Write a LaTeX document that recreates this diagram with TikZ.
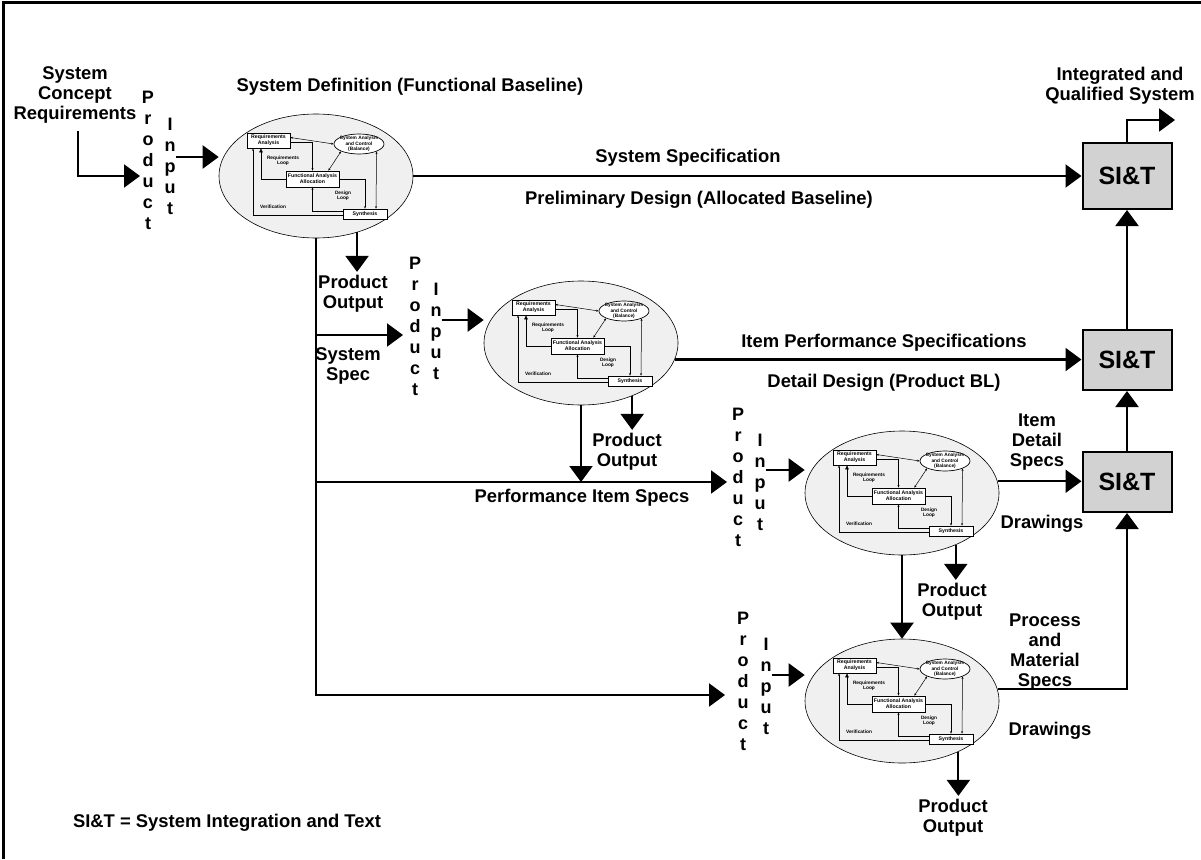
\documentclass[tikz,border=0pt]{standalone}
\usepackage{fontspec}
\setmainfont{Liberation Sans}
\usepackage{tikz}
\usetikzlibrary{arrows.meta, positioning, calc, shapes.geometric}

% one systems engineering loop inside its ellipse
\tikzset{
	seloop/.pic={
		\node[engine] (-body) at (0,0) {};
		\node[blk, minimum width=43pt, minimum height=15pt] (-req) at (-47.5,-35.5) {Requirements\\Analysis};
		\node[bal] (-sac) at (43,-32) {};
		\node[looptext] (-sactxt) at (-sac) {System Analysis\\and Control\\(Balance)};
		\node[blk, minimum width=53pt, minimum height=16pt] (-fa) at (-3.5,3) {Functional Analysis\\Allocation};
		\node[blk, minimum width=44pt, minimum height=10pt] (-syn) at (49,38) {Synthesis};
		\node[looptext] (-rl) at (-33,-15) {Requirements\\Loop};
		\node[looptext] (-dl) at (27,20) {Design\\Loop};
		\node[looptext] (-vf) at (-43,31) {Verification};
		\draw[fine, <->] ([yshift=3pt]-req.east) -- (-sac.west);
		\draw[fine, ->] ([yshift=-2pt]-req.east) -| (-fa.north);
		\draw[fine, <->] (-sac.south west) -- ([xshift=-11pt]-fa.north east);
		\draw[fine, <->] (-sac.-23) -- ([xshift=11pt]-syn.north);
		\draw[fine, ->] (-fa.east) -| (-syn.north);
		\draw[fine, -{Triangle[length=4pt,width=3.5pt]}] (-fa.west) -| ([xshift=-7.5pt]-req.south);
		\draw[fine, ->] ([yshift=3pt]-syn.west) -| (-fa.south);
		\draw[fine, ->] ([yshift=-1.5pt]-syn.west) -| ([xshift=-15.5pt]-req.south);
	}
}

\begin{document}
\begin{tikzpicture}[x=1pt, y=-1pt, >={Triangle[length=16pt,width=23pt]}]
	
	% Define styles
	\tikzstyle{engine} = [ellipse, draw, line width=0.6pt, fill=gray!12, minimum width=194pt, minimum height=124pt]
	\tikzstyle{blk} = [rectangle, draw, line width=0.7pt, fill=white, align=center, inner sep=0.5pt, font=\fontsize{5.2}{5.8}\selectfont\bfseries]
	\tikzstyle{bal} = [ellipse, draw, line width=0.7pt, fill=white, inner sep=0pt, minimum width=50pt, minimum height=20pt]
	\tikzstyle{looptext} = [align=center, inner sep=0pt, font=\fontsize{4.8}{5.3}\selectfont\bfseries]
	\tikzstyle{fine} = [line width=0.5pt, >={Stealth[length=2.5pt,width=2pt]}]
	\tikzstyle{sit} = [rectangle, draw, line width=2pt, fill=gray!35, minimum width=89pt, minimum height=60pt, font=\fontsize{25}{30}\selectfont\bfseries]
	\tikzstyle{stack} = [align=center, inner sep=0pt, font=\fontsize{18}{21}\selectfont\bfseries]
	\tikzstyle{txt} = [align=center, font=\fontsize{18.4}{20}\selectfont\bfseries]
	\tikzstyle{flow} = [line width=2.2pt, ->]
	
	\useasboundingbox (0,0) rectangle (1201,859);
	\draw[line width=3pt] (3,859) -- (3,3) -- (1201,3);
	
	% Engineering loops
	\pic (e1) at (316,176) {seloop};
	\pic (e2) at (581,343) {seloop};
	\pic (e3) at (902,493) {seloop};
	\pic (e4) at (902,701) {seloop};
	
	% SI&T boxes
	\node[sit, minimum height=66pt] (sit1) at (1127,176) {SI\&T};
	\node[sit] (sit2) at (1127,360) {SI\&T};
	\node[sit] (sit3) at (1127,482) {SI\&T};
	
	% Product / Input columns
	\node[stack] (prod1) at (148,160) {P\\r\\o\\d\\u\\c\\t};
	\node[stack] (inp1) at (170,166) {I\\n\\p\\u\\t};
	\node[stack] (prod2) at (415,326) {P\\r\\o\\d\\u\\c\\t};
	\node[stack] (inp2) at (436,331) {I\\n\\p\\u\\t};
	\node[stack] (prod3) at (738,477) {P\\r\\o\\d\\u\\c\\t};
	\node[stack] (inp3) at (760,482) {I\\n\\p\\u\\t};
	\node[stack] (prod4) at (743,681) {P\\r\\o\\d\\u\\c\\t};
	\node[stack] (inp4) at (766,686) {I\\n\\p\\u\\t};
	
	% Labels
	\node[txt] (concept) at (75,95) {System\\Concept\\Requirements};
	\node[txt] (sysdef) at (410,87) {System Definition (Functional Baseline)};
	\node[txt] (iqs) at (1120,86) {Integrated and\\Qualified System};
	\node[txt] (sysspec) at (688,158) {System Specification};
	\node[txt] (prelim) at (699,200) {Preliminary Design (Allocated Baseline)};
	\node[txt] (po1) at (353,294) {Product\\Output};
	\node[txt] (sspec) at (348,366) {System\\Spec};
	\node[txt] (itemperf) at (884,343) {Item Performance Specifications};
	\node[txt] (detail) at (884,383) {Detail Design (Product BL)};
	\node[txt] (po2) at (627,452) {Product\\Output};
	\node[txt] (perfitem) at (582,498) {Performance Item Specs};
	\node[txt] (itemdet) at (1037,442) {Item\\Detail\\Specs};
	\node[txt] (draw3) at (1042,524) {Drawings};
	\node[txt] (po3) at (952,602) {Product\\Output};
	\node[txt] (procspec) at (1045,652) {Process\\and\\Material\\Specs};
	\node[txt] (draw4) at (1050,731) {Drawings};
	\node[txt] (po4) at (953,818) {Product\\Output};
	\node[txt] (legend) at (227,823) {SI\&T = System Integration and Text};
	
	% Free ends
	\coordinate (in1) at (140,176);
	\coordinate (out1) at (1175,120);
	\coordinate (b2) at (403,335);
	\coordinate (b3) at (727,482);
	\coordinate (b4) at (725,695);
	\path ([yshift=9pt]inp1.east) coordinate (a1);
	\path ([yshift=11pt]inp2.east) coordinate (a2);
	\path ([yshift=12pt]inp3.east) coordinate (a3);
	\path ([yshift=11pt]inp4.east) coordinate (a4);
	
	% Arrows
	\draw[flow] ([xshift=3pt,yshift=-4pt]concept.south) |- (in1);
	\draw[flow] (a1) -- (a1 -| e1-body.west);
	\draw[flow] (a2) -- (a2 -| e2-body.west);
	\draw[flow] (a3) -- (a3 -| e3-body.west);
	\draw[flow] (a4) -- (a4 -| e4-body.west);
	
	\draw[flow] (e1-body.east) -- (sit1.west);
	\draw[flow] (sit1.north) |- (out1);
	\draw[flow] (sit2.north) -- (sit1.south);
	\draw[flow] (sit3.north) -- (sit2.south);
	\draw[flow] (e2-body.-10) -- (e2-body.-10 -| sit2.west);
	\draw[flow] (e3-body.7) -- (e3-body.7 -| sit3.west);
	\draw[flow] (e4-body.7) -| (sit3.south);
	
	\draw[flow] (e1-body.south) |- (b4);
	\draw[flow] (e1-body.south |- b2) -- (b2);
	\draw[flow] (e1-body.south |- b3) -- (b3);
	\draw[flow] (e2-body.south) -- (e2-body.south |- b3);
	\draw[flow] (e3-body.south) -- (e4-body.north);
	
	\draw[flow] (e1-body.-54) -- (e1-body.-54 |- po1.north);
	\draw[flow] (e2-body.-46) -- (e2-body.-46 |- po2.north);
	\draw[flow] (e3-body.-44) -- (e3-body.-44 |- po3.north);
	\draw[flow] (e4-body.-42) -- (e4-body.-42 |- po4.north);
	
\end{tikzpicture}
\end{document}
